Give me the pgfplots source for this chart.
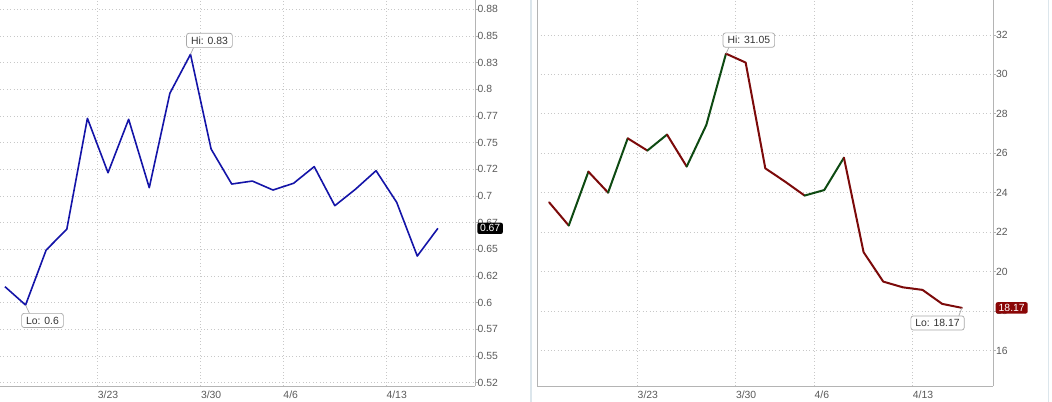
\documentclass[border=0pt]{standalone}
\usepackage{pgfplots}
\pgfplotsset{compat=1.18}
\usepackage{fontspec}
\setmainfont{Liberation Sans}
\definecolor{tickgray}{HTML}{5A5A5A}
\definecolor{axisgray}{HTML}{B4B4B4}
\definecolor{gridgray}{HTML}{C8C8C8}
\definecolor{panelblue}{HTML}{DCE6EC}
\definecolor{blueline}{HTML}{1414A8}
\definecolor{upgreen}{HTML}{0E4A12}
\definecolor{downred}{HTML}{7C0A0A}
\definecolor{lastred}{HTML}{8A0606}
\definecolor{callgray}{HTML}{A8A8A8}
\definecolor{calltext}{HTML}{333333}
\tikzset{
  callout/.style={draw=callgray, fill=white, rounded corners=2.5bp, inner xsep=4.5bp, inner ysep=3.4bp,
    text=calltext, font=\fontsize{10.4bp}{12bp}\selectfont, line width=0.7bp},
}
\pgfplotsset{
  common/.style={
    scale only axis, clip=false,
    axis x line*=bottom, axis y line*=right,
    axis line style={color=axisgray, line width=0.8bp},
    ytick style={color=axisgray, line width=0.8bp},
    xtick style={draw=none},
    major tick length=2.5bp, tick align=outside,
    grid=major,
    major grid style={color=gridgray, line width=0.8bp, dash pattern=on 0.8bp off 2.6bp},
    ticklabel style={font=\fontsize{10.4bp}{12bp}\selectfont, text=tickgray},
    yticklabel style={anchor=west, inner sep=0pt, xshift=0bp},
    xticklabel style={anchor=north west, inner sep=0pt, xshift=0bp, yshift=-2bp},
    xtick={4.5,9.5,13.5,18.5},
    xticklabels={3/23,3/30,4/6,4/13},
  },
}
\begin{document}
\fontsize{10bp}{12bp}\selectfont
\begin{tikzpicture}
\useasboundingbox (0bp,0bp) rectangle (1052bp,402bp);
\fill[white] (0bp,0bp) rectangle (1052bp,402bp);
\draw[panelblue, line width=1.5bp] (531bp,0bp) -- (531bp,402bp);
\draw[panelblue, line width=1bp] (1048bp,0bp) -- (1048bp,402bp);
% ---------------- left chart ----------------
\begin{axis}[common, at={(0bp,16bp)}, anchor=south west, width=475bp, height=386bp,
  xmin=-0.24, xmax=22.8, ymin=0.5219, ymax=0.8837,
  ytick={0.525,0.55,0.575,0.6,0.625,0.65,0.675,0.7,0.725,0.75,0.775,0.8,0.825,0.85,0.875},
  yticklabels={0.52,0.55,0.57,0.6,0.62,0.65,0.67,0.7,0.72,0.75,0.77,0.8,0.83,0.85,0.88}]
\addplot[blueline, line width=1.6bp, line join=round, no marks] coordinates {
(0,0.615) (1,0.5978) (2,0.6494) (3,0.6688) (4,0.7728) (5,0.7218) (6,0.7719) (7,0.7078)
(8,0.7963) (9,0.8328) (10,0.744) (11,0.7112) (12,0.714) (13,0.7056) (14,0.7119) (15,0.7275)
(16,0.6909) (17,0.7063) (18,0.7237) (19,0.6941) (20,0.6437) (21,0.6697)};
\draw[callgray, line width=0.7bp] (axis cs:9,0.8328) -- ++(3bp,6.5bp);
\node[callout, anchor=south west, xshift=-4.3bp, yshift=6.3bp] at (axis cs:9,0.8328) {Hi: 0.83};
\draw[callgray, line width=0.7bp] (axis cs:1,0.5978) -- ++(4bp,-8.5bp);
\node[callout, anchor=north west, xshift=-4.3bp, yshift=-8bp] at (axis cs:1,0.5978) {Lo: 0.6};
\node[fill=black, text=white, rounded corners=2bp, inner xsep=2.6bp, inner ysep=2bp, anchor=west,
  font=\fontsize{10.4bp}{12bp}\selectfont, xshift=2.2bp] at (axis cs:22.8,0.6697) {0.67};
\end{axis}
% ---------------- right chart ----------------
\begin{axis}[common, at={(537.3bp,16bp)}, anchor=south west, width=456bp, height=386bp,
  xmin=-0.6, xmax=22.6, ymin=14.21, ymax=33.77,
  ytick={16,18,20,22,24,26,28,30,32},
  yticklabels={16,18,20,22,24,26,28,30,32}]
\draw[axisgray, line width=0.8bp] (rel axis cs:0,0) -- (rel axis cs:0,1);
\addplot[downred, line width=2bp, line join=round, line cap=round, no marks] coordinates {(0,23.52) (1,22.34)};
\addplot[upgreen, line width=2bp, line join=round, line cap=round, no marks] coordinates {(1,22.34) (2,25.07)};
\addplot[downred, line width=2bp, line join=round, line cap=round, no marks] coordinates {(2,25.07) (3,24.01)};
\addplot[upgreen, line width=2bp, line join=round, line cap=round, no marks] coordinates {(3,24.01) (4,26.76)};
\addplot[downred, line width=2bp, line join=round, line cap=round, no marks] coordinates {(4,26.76) (5,26.14)};
\addplot[upgreen, line width=2bp, line join=round, line cap=round, no marks] coordinates {(5,26.14) (6,26.95)};
\addplot[downred, line width=2bp, line join=round, line cap=round, no marks] coordinates {(6,26.95) (7,25.33)};
\addplot[upgreen, line width=2bp, line join=round, line cap=round, no marks] coordinates {(7,25.33) (8,27.44) (9,31.05)};
\addplot[downred, line width=2bp, line join=round, line cap=round, no marks] coordinates {(9,31.05) (10,30.6) (11,25.24) (12,24.57) (13,23.86)};
\addplot[upgreen, line width=2bp, line join=round, line cap=round, no marks] coordinates {(13,23.86) (14,24.14) (15,25.78)};
\addplot[downred, line width=2bp, line join=round, line cap=round, no marks] coordinates {(15,25.78) (16,20.99) (17,19.5) (18,19.21) (19,19.08) (20,18.37) (21,18.17)};
\draw[callgray, line width=0.7bp] (axis cs:9,31.05) -- ++(3bp,6.5bp);
\node[callout, anchor=south west, xshift=-3.3bp, yshift=6bp] at (axis cs:9,31.05) {Hi: 31.05};
\draw[callgray, line width=0.7bp] (axis cs:21,18.17) -- ++(-3bp,-8bp);
\node[callout, anchor=north east, xshift=2.7bp, yshift=-7.7bp] at (axis cs:21,18.17) {Lo: 18.17};
\node[fill=lastred, text=white, rounded corners=2bp, inner xsep=3bp, inner ysep=2bp, anchor=west,
  font=\fontsize{10.4bp}{12bp}\selectfont, xshift=2.2bp] at (axis cs:22.6,18.17) {18.17};
\end{axis}
\end{tikzpicture}
\end{document}
